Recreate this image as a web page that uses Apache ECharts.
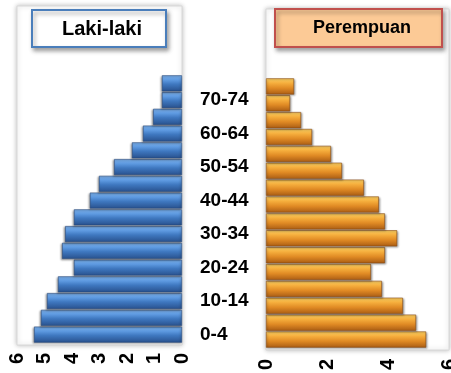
<!DOCTYPE html>
<html lang="id" style="height: 100%">
<head>
    <meta charset="utf-8">
    <script src="https://cdn.jsdelivr.net/npm/echarts@6/dist/echarts.min.js"></script>
</head>
<body style="height: 100%; margin: 0; background: #fff">
<div id="main" style="width: 451px; height: 373px"></div>

<script type="text/javascript">
    // kelompok umur, dari bawah ke atas
    var ageGroups = ['0-4', '5-9', '10-14', '15-19', '20-24', '25-29', '30-34', '35-39',
        '40-44', '45-49', '50-54', '55-59', '60-64', '65-69', '70-74', '75+'];
    // persen penduduk
    var maleValues = [5.38, 5.13, 4.91, 4.51, 3.93, 4.36, 4.25, 3.93,
        3.35, 3.02, 2.47, 1.82, 1.42, 1.05, 0.73, 0.73];
    var femaleValues = [5.25, 4.92, 4.49, 3.8, 3.44, 3.9, 4.3, 3.9,
        3.7, 3.21, 2.49, 2.13, 1.51, 1.15, 0.79, 0.92];
    var titles = ['Laki-laki', 'Perempuan'];

    var chart = echarts.init(document.getElementById('main'));

    var font = '"Liberation Sans", Arial, sans-serif';

    // warna batang dengan efek bevel
    var blueFill = new echarts.graphic.LinearGradient(0, 0, 0, 1, [
        {offset: 0, color: '#7fb4ef'},
        {offset: 0.3, color: '#5c98df'},
        {offset: 0.55, color: '#3f78c0'},
        {offset: 1, color: '#28508c'}
    ]);
    var orangeFill = new echarts.graphic.LinearGradient(0, 0, 0, 1, [
        {offset: 0, color: '#ffd466'},
        {offset: 0.3, color: '#f5ad3c'},
        {offset: 0.6, color: '#e08a24'},
        {offset: 1, color: '#a95c14'}
    ]);

    var tickLabel = {
        rotate: 90,
        color: '#000',
        fontWeight: 'bold',
        fontSize: 20,
        fontFamily: font
    };

    chart.setOption({
        animation: false,
        graphic: [
            // panel kiri & kanan
            {
                type: 'rect', z: 0,
                shape: {x: 17, y: 6, width: 165, height: 339},
                style: {fill: '#fff', stroke: '#d8d8d8', lineWidth: 1,
                    shadowBlur: 5, shadowColor: 'rgba(0,0,0,0.25)'}
            },
            {
                type: 'rect', z: 0,
                shape: {x: 266, y: 9, width: 183, height: 341},
                style: {fill: '#fff', stroke: '#d8d8d8', lineWidth: 1,
                    shadowBlur: 5, shadowColor: 'rgba(0,0,0,0.25)'}
            },
            // kotak judul
            {
                type: 'rect', z: 10,
                shape: {x: 32, y: 10, width: 134, height: 37},
                style: {fill: '#fff', stroke: '#4a7ebb', lineWidth: 2,
                    shadowBlur: 4, shadowOffsetX: 2, shadowOffsetY: 3, shadowColor: 'rgba(0,0,0,0.35)'}
            },
            {
                type: 'text', z: 11, x: 102, y: 29,
                style: {text: titles[0], fill: '#000', font: 'bold 20px ' + font,
                    textAlign: 'center', textVerticalAlign: 'middle'}
            },
            {
                type: 'rect', z: 10,
                shape: {x: 275, y: 9, width: 167, height: 38},
                style: {fill: '#fcca96', stroke: '#c0504d', lineWidth: 2,
                    shadowBlur: 4, shadowOffsetX: 2, shadowOffsetY: 3, shadowColor: 'rgba(0,0,0,0.35)'}
            },
            {
                type: 'text', z: 11, x: 362, y: 28,
                style: {text: titles[1], fill: '#000', font: 'bold 18px ' + font,
                    textAlign: 'center', textVerticalAlign: 'middle'}
            }
        ],
        grid: [
            {left: 17, width: 165, top: 75, height: 268, outerBoundsMode: 'none'},
            {left: 266, width: 183, top: 78, height: 270, outerBoundsMode: 'none'}
        ],
        xAxis: [
            {
                gridIndex: 0, type: 'value', min: 0, max: 6, interval: 1, inverse: true,
                axisLine: {show: false}, axisTick: {show: false}, splitLine: {show: false},
                axisLabel: Object.assign({margin: 10}, tickLabel)
            },
            {
                gridIndex: 1, type: 'value', min: 0, max: 6, interval: 2,
                axisLine: {show: false}, axisTick: {show: false}, splitLine: {show: false},
                axisLabel: Object.assign({margin: 11}, tickLabel)
            }
        ],
        yAxis: [
            {
                gridIndex: 0, type: 'category', data: ageGroups, position: 'right',
                axisLine: {show: false}, axisTick: {show: false},
                axisLabel: {
                    interval: 1, margin: 18, align: 'left',
                    color: '#000', fontWeight: 'bold', fontSize: 19, fontFamily: font
                }
            },
            {
                gridIndex: 1, type: 'category', data: ageGroups,
                axisLine: {show: false}, axisTick: {show: false}, axisLabel: {show: false}
            }
        ],
        series: [
            {
                name: titles[0], type: 'bar', xAxisIndex: 0, yAxisIndex: 0,
                data: maleValues, barCategoryGap: '4%',
                itemStyle: {color: blueFill, borderColor: '#23477a', borderWidth: 0.6,
                    shadowBlur: 2, shadowOffsetX: -1, shadowOffsetY: 1, shadowColor: 'rgba(0,0,0,0.35)'}
            },
            {
                name: titles[1], type: 'bar', xAxisIndex: 1, yAxisIndex: 1,
                data: femaleValues, barCategoryGap: '4%',
                itemStyle: {color: orangeFill, borderColor: '#8a4a10', borderWidth: 0.6,
                    shadowBlur: 2, shadowOffsetX: 1, shadowOffsetY: 1, shadowColor: 'rgba(0,0,0,0.35)'}
            }
        ]
    });
</script>
</body>
</html>
